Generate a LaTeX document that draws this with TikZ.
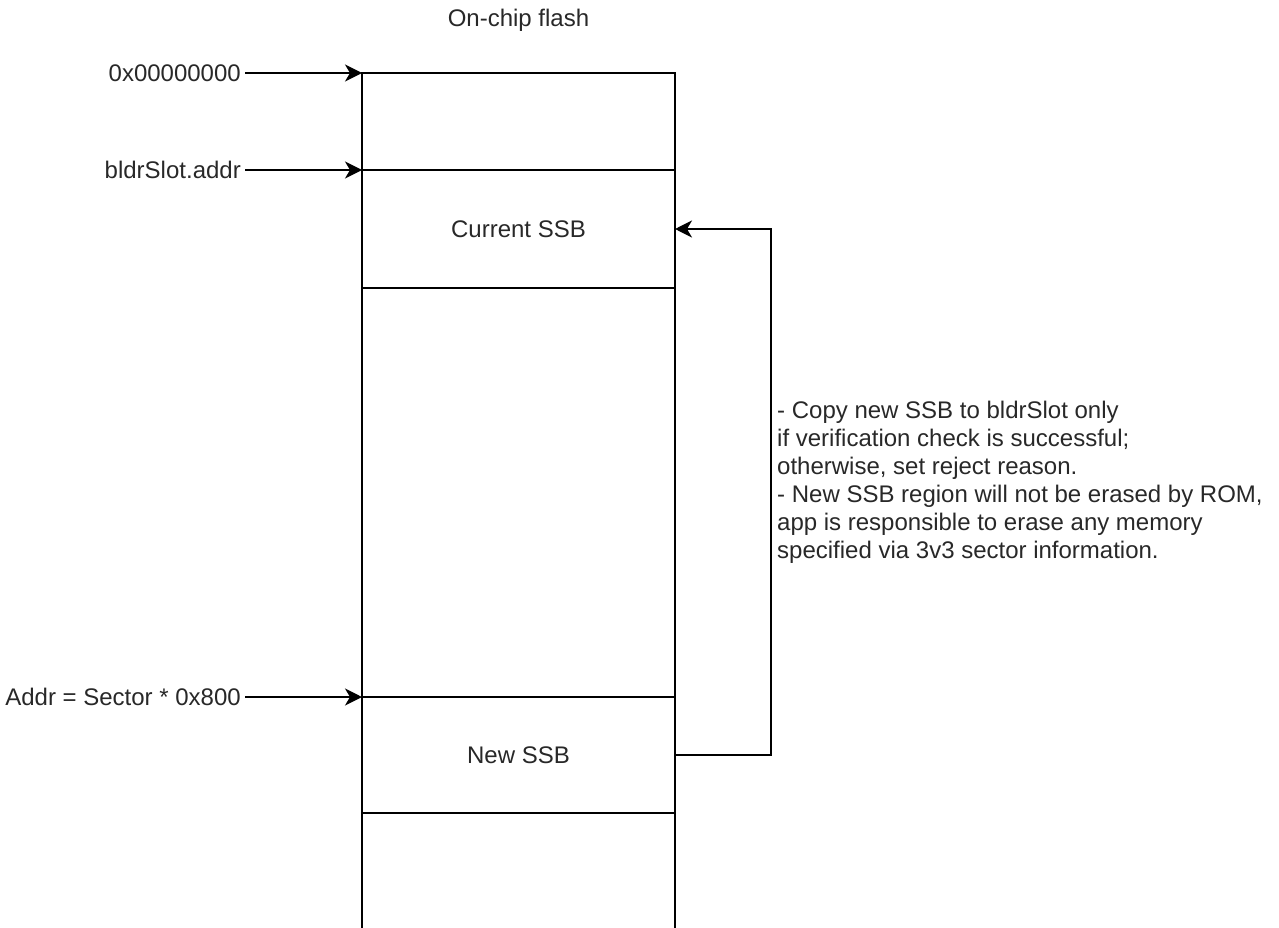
\documentclass[tikz,border=0pt]{standalone}
\usepackage{fontspec}
\setmainfont{Liberation Sans}
\usetikzlibrary{arrows.meta}
\definecolor{txt}{RGB}{40,40,40}
\tikzset{
  lbl/.style={font=\fontsize{24}{28}\selectfont, text=txt, inner sep=0pt},
  seg/.style={draw=black, line width=1.5pt, minimum width=313pt, inner sep=0pt, outer sep=0pt, font=\fontsize{24}{28}\selectfont, text=txt},
  arr/.style={line width=1.5pt, -{Stealth[length=17pt,width=17pt,inset=5pt]}},
  conn/.style={line width=1.5pt}
}
\begin{document}
\begin{tikzpicture}[x=1pt,y=-1pt]
\useasboundingbox (0,0) rectangle (1279,928);
\node[lbl] (title) at (518.5,20) {On-chip flash};
% column segments
\node[seg, minimum height=97pt] (top) at (518.5,121.5) {};
\node[seg, minimum height=118pt] (cur) at (518.5,229) {Current SSB};
\node[seg, minimum height=409pt] (mid) at (518.5,492.5) {};
\node[seg, minimum height=116pt] (new) at (518.5,755) {New SSB};
\coordinate (bl) at (362,930);
\coordinate (br) at (675,930);
\draw[conn] (new.south west) -- (bl);
\draw[conn] (new.south east) -- (br);
% address labels
\node[lbl, anchor=east] (a0) at (241,73) {0x00000000};
\node[lbl, anchor=east] (a1) at (241,170) {bldrSlot.addr};
\node[lbl, anchor=east] (a2) at (241,697) {Addr = Sector * 0x800};
\draw[arr] ([xshift=4pt]a0.east) -- (top.north west);
\draw[arr] ([xshift=4pt]a1.east) -- (cur.north west);
\draw[arr] ([xshift=4pt]a2.east) -- (new.north west);
% feedback
\coordinate (fb) at (771,755);
\draw[arr] (new.east) -- (fb) |- (cur.east);
% note
\node[lbl, anchor=north west, align=left] (note) at (777,400.5) {- Copy new SSB to bldrSlot only\\if verification check is successful;\\otherwise, set reject reason.\\- New SSB region will not be erased by ROM,\\app is responsible to erase any memory\\specified via 3v3 sector information.};
\end{tikzpicture}
\end{document}
